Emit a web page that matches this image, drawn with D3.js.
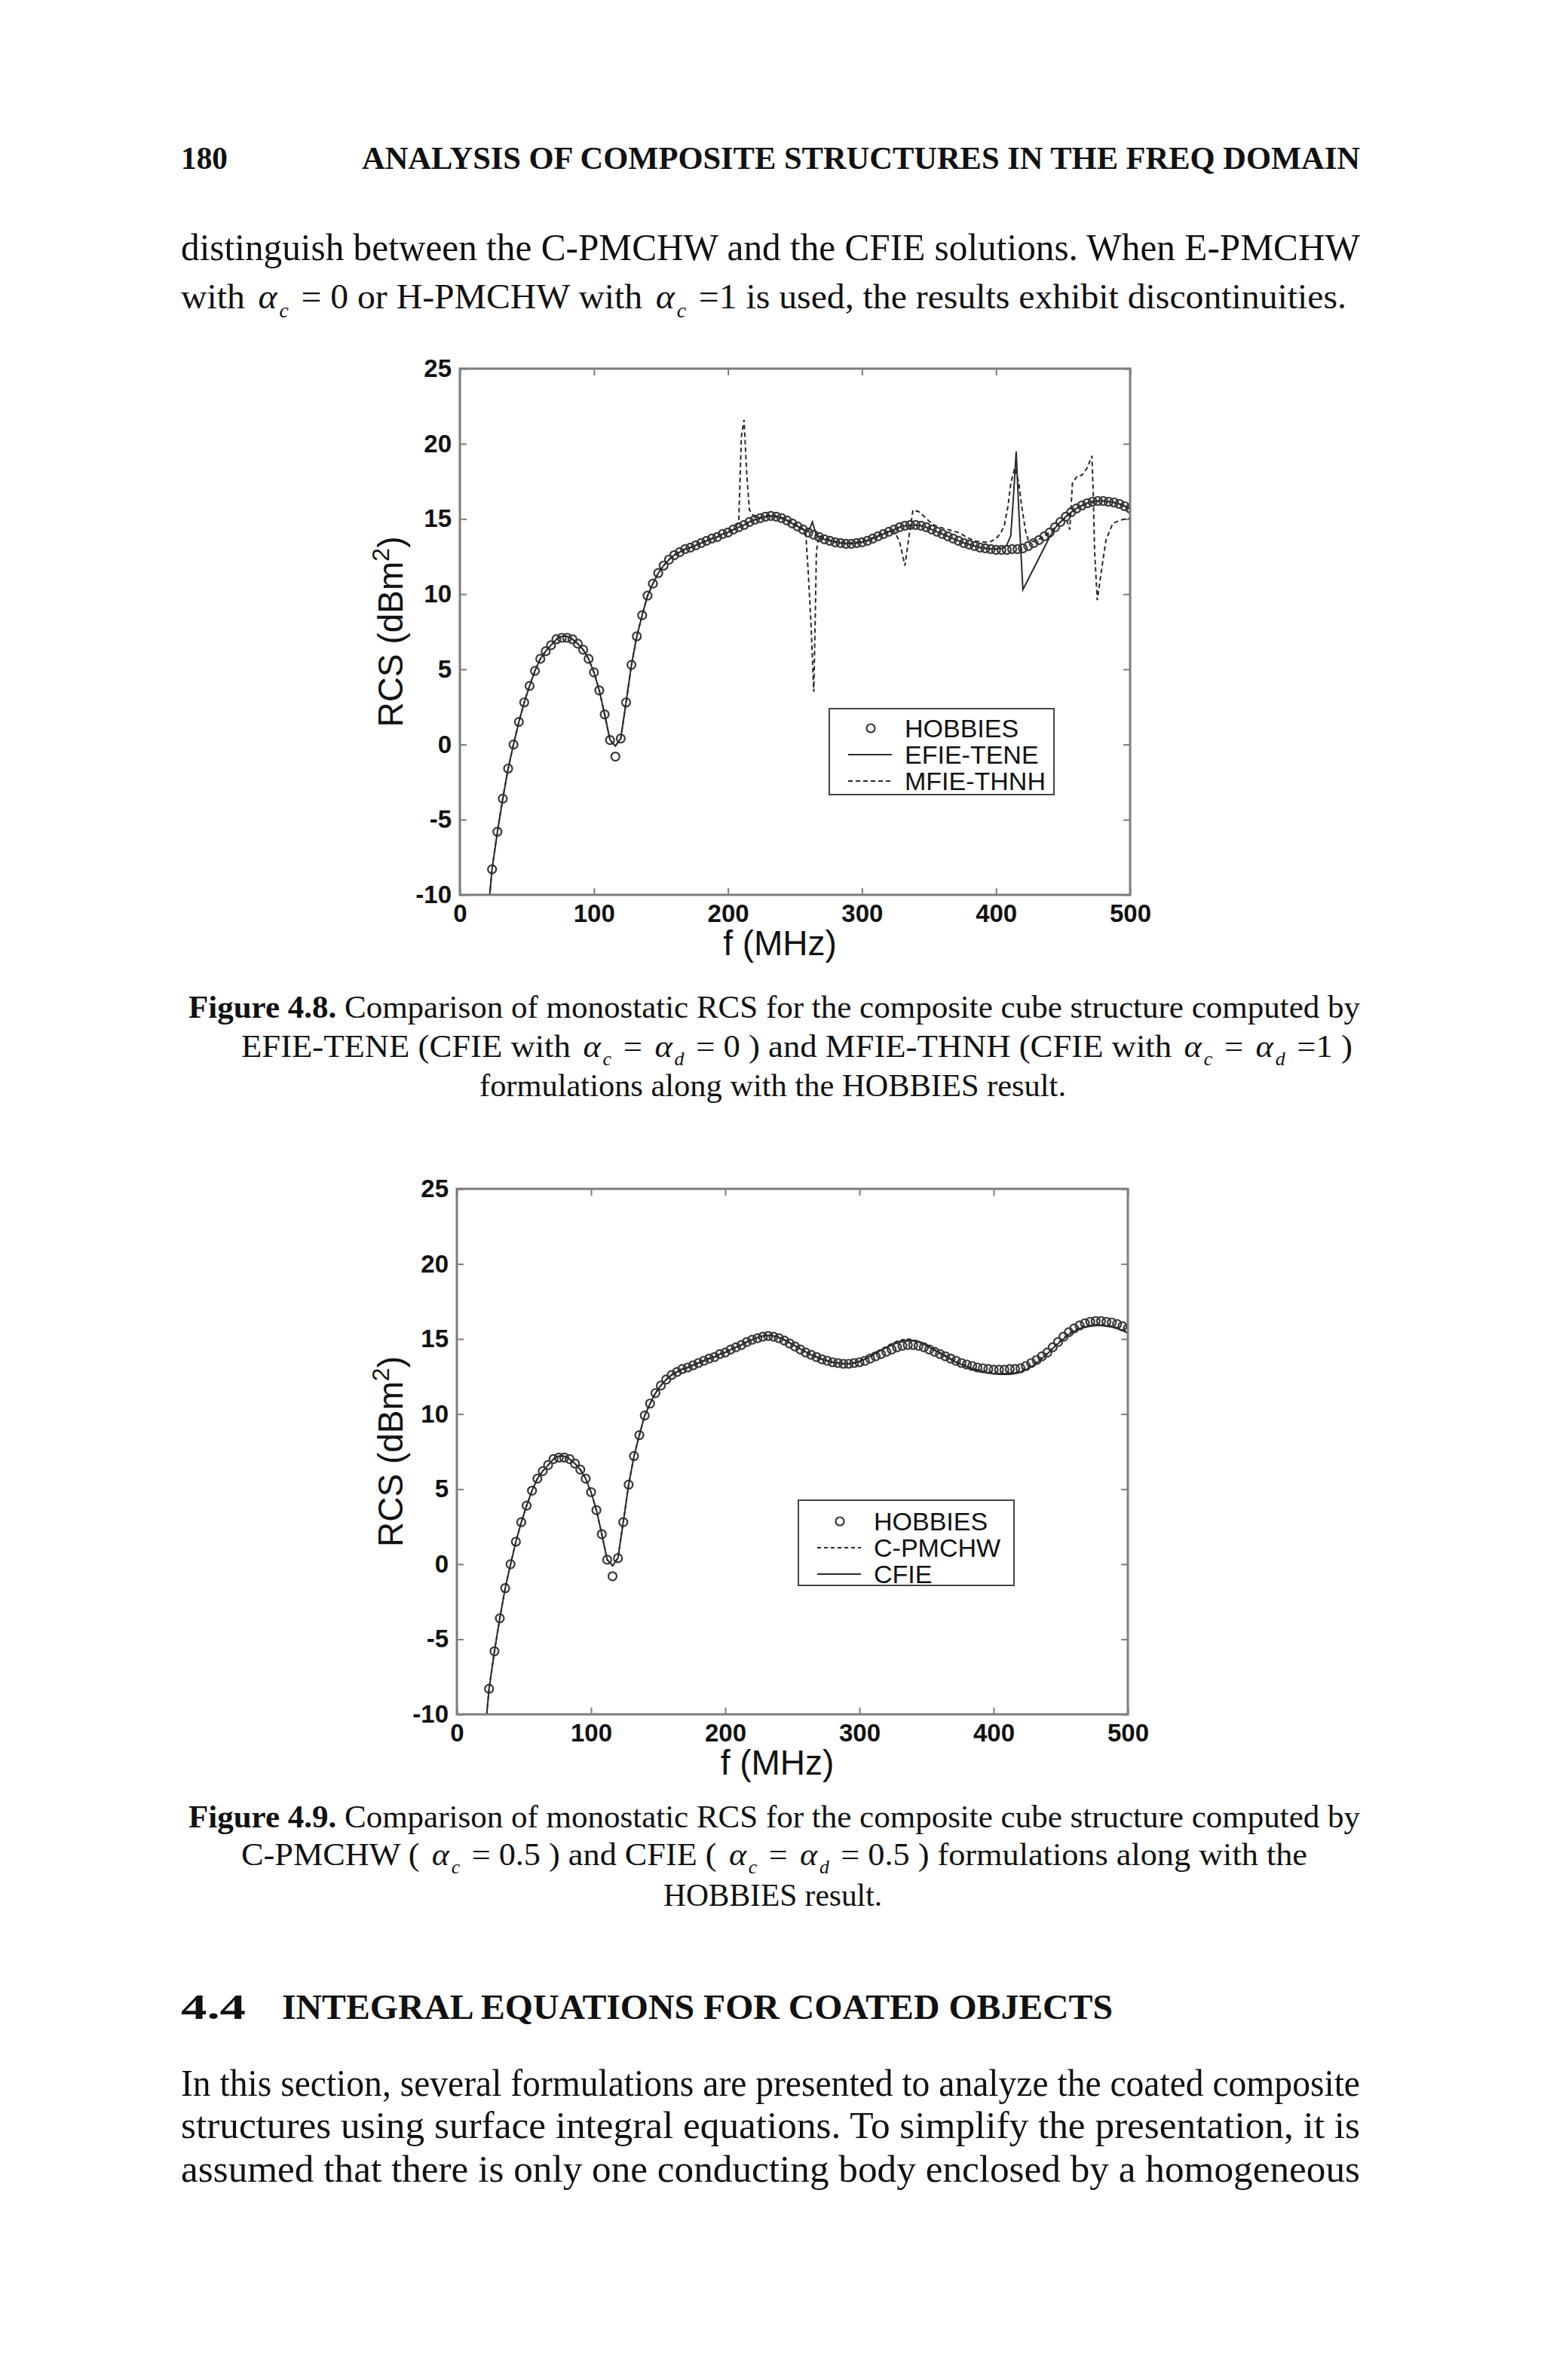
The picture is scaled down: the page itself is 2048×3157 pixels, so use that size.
<!DOCTYPE html>
<html>
<head>
<meta charset="utf-8">
<script src="https://d3js.org/d3.v7.min.js"></script>
<style>
body { margin: 0; background: #fff; }
</style>
</head>
<body>
<script>
// ---- data ----
var xTicks = [0, 100, 200, 300, 400, 500];
var yTicks = [-10, -5, 0, 5, 10, 15, 20, 25];

// HOBBIES reference (circles), same in both figures
var hobbiesFreq = [
  24,28,32,36,40,44,48,52,56,60,64,68,72,76,80,84,88,92,96,100,
  104,108,112,116,120,124,128,132,136,140,144,148,152,156,160,164,168,172,176,180,
  184,188,192,196,200,204,208,212,216,220,224,228,232,236,240,244,248,252,256,260,
  264,268,272,276,280,284,288,292,296,300,304,308,312,316,320,324,328,332,336,340,
  344,348,352,356,360,364,368,372,376,380,384,388,392,396,400,404,408,412,416,420,
  424,428,432,436,440,444,448,452,456,460,464,468,472,476,480,484,488,492,496,500];
var hobbiesRcs = [
  -8.3,-5.8,-3.6,-1.6,0.0,1.5,2.8,3.9,4.9,5.7,6.2,6.6,7.0,7.1,7.1,7.0,6.7,6.3,5.7,4.8,
  3.6,2.0,0.3,-0.8,0.4,2.8,5.3,7.2,8.6,9.9,10.7,11.4,11.9,12.3,12.6,12.8,13.0,13.1,13.25,13.4,
  13.55,13.7,13.8,14.0,14.1,14.3,14.45,14.6,14.8,14.95,15.05,15.15,15.2,15.15,15.05,14.9,14.7,14.5,14.3,14.1,
  13.95,13.8,13.65,13.55,13.45,13.4,13.35,13.35,13.4,13.45,13.55,13.7,13.85,14.0,14.15,14.3,14.45,14.55,14.6,14.6,
  14.55,14.45,14.3,14.15,14.0,13.85,13.7,13.55,13.4,13.3,13.2,13.1,13.05,13.0,12.95,12.95,12.95,13.0,13.0,13.05,
  13.2,13.4,13.6,13.85,14.1,14.45,14.8,15.15,15.45,15.7,15.9,16.05,16.15,16.2,16.2,16.15,16.1,16.0,15.85,15.7];

// Figure 4.8 lines: [f (MHz), RCS]
var efieTene = [
  [20,-12.2],[24,-8.3],[28,-5.8],[32,-3.6],[36,-1.6],[40,0.0],[44,1.5],[48,2.8],[52,3.9],[56,4.9],
  [60,5.7],[64,6.2],[68,6.6],[72,7.0],[76,7.2],[80,7.2],[84,7.0],[88,6.7],[92,6.3],[96,5.7],
  [100,4.8],[104,3.6],[108,2.0],[112,0.3],[116,-0.1],[120,0.4],[124,2.8],[128,5.3],[132,7.2],[136,8.6],
  [140,9.9],[144,10.7],[148,11.4],[152,11.9],[156,12.3],[160,12.6],[164,12.8],[168,13.0],[172,13.1],[176,13.25],
  [180,13.4],[184,13.55],[188,13.7],[192,13.8],[196,14.0],[200,14.1],[204,14.3],[208,14.45],[212,14.6],[216,14.8],
  [220,14.95],[224,15.05],[228,15.15],[232,15.2],[236,15.15],[240,15.05],[244,14.9],[248,14.7],[252,14.5],[256,14.3],
  [260,14.15],[263,14.8],[266,13.9],[270,13.7],[276,13.55],[280,13.45],[284,13.4],[288,13.35],[292,13.35],[296,13.4],
  [300,13.45],[304,13.55],[308,13.7],[312,13.85],[316,14.0],[320,14.15],[324,14.3],[328,14.45],[332,14.55],[336,14.6],
  [340,14.6],[344,14.55],[348,14.45],[352,14.3],[356,14.15],[360,14.0],[364,13.85],[368,13.7],[372,13.55],[376,13.4],
  [380,13.3],[384,13.2],[388,13.1],[392,13.05],[396,13.0],[400,13.0],[404,13.05],[408,13.25],[411,13.9],[413,16.5],
  [415,19.5],[417,15.5],[420,10.3],[424,11.0],[428,11.7],[432,12.4],[436,13.1],[440,13.8],[444,14.4],[448,14.8],
  [452,15.15],[456,15.45],[460,15.7],[464,15.9],[468,16.05],[472,16.15],[476,16.2],[480,16.2],[484,16.15],[488,16.1],
  [492,16.0],[496,15.85],[500,15.7]];
var mfieThnh = [
  [20,-12.2],[24,-8.3],[28,-5.8],[32,-3.6],[36,-1.6],[40,0.0],[44,1.5],[48,2.8],[52,3.9],[56,4.9],
  [60,5.7],[64,6.2],[68,6.6],[72,7.0],[76,7.2],[80,7.2],[84,7.0],[88,6.7],[92,6.3],[96,5.7],
  [100,4.8],[104,3.6],[108,2.0],[112,0.3],[116,-0.1],[120,0.4],[124,2.8],[128,5.3],[132,7.2],[136,8.6],
  [140,9.9],[144,10.7],[148,11.4],[152,11.9],[156,12.3],[160,12.6],[164,12.8],[168,13.0],[172,13.1],[176,13.25],
  [180,13.4],[184,13.55],[188,13.7],[192,13.8],[196,14.0],[200,14.1],[204,14.3],[208,14.75],[210,20.5],[212,21.6],
  [214,18.0],[216,15.6],[220,15.1],[224,15.1],[228,15.2],[232,15.25],[236,15.2],[240,15.1],[244,14.95],[248,14.75],
  [252,14.55],[256,14.35],[258,14.1],[260,11.3],[262,7.9],[264,3.5],[265,7.9],[266,12.9],[268,13.9],[272,13.7],
  [276,13.6],[280,13.5],[284,13.45],[288,13.4],[292,13.4],[296,13.45],[300,13.5],[304,13.6],[308,13.75],[312,13.9],
  [316,14.05],[320,14.2],[324,14.2],[328,13.5],[332,11.9],[335,13.8],[338,15.6],[342,15.5],[346,15.2],[352,14.7],
  [356,14.5],[360,14.4],[364,14.3],[368,14.2],[372,14.1],[376,13.9],[380,13.7],[386,13.5],[392,13.45],[396,13.5],
  [400,13.7],[403,14.0],[406,14.5],[409,15.9],[411,17.4],[414,18.4],[417,17.4],[419,15.9],[422,14.2],[424,13.6],
  [428,13.5],[432,13.65],[436,13.85],[440,14.1],[444,14.45],[448,14.8],[452,15.1],[455,14.3],[457,17.4],[461,17.9],
  [464,17.9],[468,18.4],[471.5,19.2],[472.5,16.7],[473.5,12.9],[475.5,9.6],[478,11.2],[482,13.6],[487,14.7],[492,14.9],
  [496,15.0],[500,15.05]];

// Figure 4.9 lines, sampled every 4 MHz
var lineFreq = [20,
  24,28,32,36,40,44,48,52,56,60,64,68,72,76,80,84,88,92,96,100,
  104,108,112,116,120,124,128,132,136,140,144,148,152,156,160,164,168,172,176,180,
  184,188,192,196,200,204,208,212,216,220,224,228,232,236,240,244,248,252,256,260,
  264,268,272,276,280,284,288,292,296,300,304,308,312,316,320,324,328,332,336,340,
  344,348,352,356,360,364,368,372,376,380,384,388,392,396,400,404,408,412,416,420,
  424,428,432,436,440,444,448,452,456,460,464,468,472,476,480,484,488,492,496,500];
var cfieRcs = [-12.2,
  -8.3,-5.8,-3.6,-1.6,0.0,1.5,2.8,3.9,4.9,5.7,6.2,6.6,7.0,7.2,7.2,7.0,6.7,6.3,5.7,4.8,
  3.6,2.0,0.3,-0.1,0.4,2.8,5.3,7.2,8.6,9.9,10.7,11.4,11.9,12.3,12.6,12.8,13.0,13.1,13.25,13.4,
  13.55,13.7,13.8,14.0,14.1,14.3,14.45,14.6,14.8,14.95,15.1,15.2,15.25,15.2,15.1,14.95,14.75,14.55,14.35,14.15,
  13.95,13.8,13.65,13.55,13.45,13.4,13.35,13.35,13.4,13.5,13.65,13.85,14.05,14.25,14.45,14.65,14.8,14.9,14.95,14.9,
  14.8,14.65,14.45,14.25,14.05,13.85,13.65,13.45,13.3,13.15,13.0,12.9,12.8,12.75,12.7,12.65,12.65,12.65,12.7,12.8,
  12.95,13.15,13.4,13.7,14.0,14.35,14.7,15.0,15.3,15.5,15.7,15.8,15.85,15.9,15.9,15.85,15.8,15.7,15.55,15.4];
var cpmchwRcs = [-12.2,
  -8.3,-5.8,-3.6,-1.6,0.0,1.5,2.8,3.9,4.9,5.7,6.2,6.6,7.0,7.2,7.2,7.0,6.7,6.3,5.7,4.8,
  3.6,2.0,0.3,-0.1,0.4,2.8,5.3,7.2,8.6,9.9,10.7,11.4,11.9,12.3,12.6,12.8,13.0,13.1,13.25,13.4,
  13.55,13.7,13.8,14.0,14.1,14.3,14.45,14.6,14.8,14.95,15.1,15.2,15.25,15.2,15.1,14.95,14.75,14.55,14.35,14.15,
  13.95,13.8,13.65,13.55,13.45,13.4,13.35,13.35,13.4,13.5,13.7,13.9,14.1,14.3,14.5,14.7,14.85,14.95,15.0,14.95,
  14.85,14.7,14.5,14.3,14.1,13.9,13.7,13.5,13.35,13.2,13.05,12.95,12.85,12.8,12.75,12.7,12.7,12.7,12.75,12.85,
  13.0,13.2,13.45,13.75,14.05,14.4,14.75,15.05,15.35,15.55,15.75,15.85,15.9,15.95,15.95,15.9,15.85,15.75,15.6,15.45];

// ---- page ----
var W = 2048, H = 3157;
var serif = "'Liberation Serif', 'Times New Roman', serif";
var sans = "'Liberation Sans', Arial, sans-serif";

var svg = d3.select("body").append("svg").attr("width", W).attr("height", H);
svg.append("rect").attr("width", W).attr("height", H).attr("fill", "#fff");

// one line of text; parts = [text, kind]; kind: b = bold, i = italic, s = italic subscript
function textLine(x, y, size, len, parts, weight) {
  var t = svg.append("text").attr("x", x).attr("y", y)
    .attr("font-family", serif).attr("font-size", size).attr("fill", "#111");
  if (weight) t.attr("font-weight", weight);
  if (len) t.attr("textLength", len).attr("lengthAdjust", "spacingAndGlyphs");
  var shift = 0;
  parts.forEach(function(p) {
    var s = t.append("tspan").text(p[0]);
    if (p[1] == "b") s.attr("font-weight", "bold");
    if (p[1] == "i") s.attr("font-style", "italic").attr("dx", size * 0.12);
    if (p[1] == "s") {
      s.attr("font-style", "italic").attr("font-size", size * 0.58)
        .attr("dy", size * 0.26).attr("dx", size * 0.06);
      shift = size * 0.26;
    } else if (shift) {
      s.attr("dy", -shift).attr("dx", size * 0.1);
      shift = 0;
    }
  });
  return t;
}

// header and first paragraph
textLine(240, 224, 42, 62, [["180"]], "bold");
textLine(480, 224, 42, 1324, [["ANALYSIS OF COMPOSITE STRUCTURES IN THE FREQ DOMAIN"]], "bold");
textLine(240, 345, 50, 1564, [["distinguish between the C-PMCHW and the CFIE solutions. When E-PMCHW"]]);
// slightly smaller size so the line is stretched, never squeezed, to its width
textLine(240, 409, 46, 1546, [["with "], ["\u03b1", "i"], ["c", "s"], [" = 0 or H-PMCHW with "], ["\u03b1", "i"], ["c", "s"],
  [" =1 is used, the results exhibit discontinuities."]]);

// caption of figure 4.8
textLine(250, 1350, 43, 1554, [["Figure 4.8.", "b"], ["  Comparison of monostatic RCS for the composite cube structure computed by"]]);
textLine(320, 1402, 42, 1474, [["EFIE-TENE (CFIE with "], ["\u03b1", "i"], ["c", "s"], [" = "], ["\u03b1", "i"], ["d", "s"],
  [" = 0 ) and MFIE-THNH (CFIE with "], ["\u03b1", "i"], ["c", "s"], [" = "], ["\u03b1", "i"], ["d", "s"], [" =1 )"]]);
textLine(636, 1454, 43, 778, [["formulations along with the HOBBIES result."]]);

// caption of figure 4.9
textLine(250, 2424, 43, 1554, [["Figure 4.9.", "b"], ["  Comparison of monostatic RCS for the composite cube structure computed by"]]);
textLine(320, 2474, 42, 1414, [["C-PMCHW ( "], ["\u03b1", "i"], ["c", "s"], [" = 0.5 ) and CFIE ( "], ["\u03b1", "i"], ["c", "s"],
  [" = "], ["\u03b1", "i"], ["d", "s"], [" = 0.5 ) formulations along with the"]]);
textLine(880, 2528, 43, 290, [["HOBBIES result."]]);

// section 4.4
textLine(240, 2678, 46, 86, [["4.4"]], "bold");
textLine(374, 2678, 46, 1102, [["INTEGRAL EQUATIONS FOR COATED OBJECTS"]], "bold");
textLine(240, 2780, 50, 1564, [["In this section, several formulations are presented to analyze the coated composite"]]);
textLine(240, 2836, 50, 1564, [["structures using surface integral equations. To simplify the presentation, it is"]]);
textLine(240, 2894, 50, 1564, [["assumed that there is only one conducting body enclosed by a homogeneous"]]);

// ---- charts ----
var frameColor = "#7d7d7d";
var inkColor = "#2a2a2a";

function drawChart(c) {
  var x = d3.scaleLinear().domain([0, 500]).range([c.left, c.right]);
  var y = d3.scaleLinear().domain([-10, 25]).range([c.bottom, c.top]);
  var g = svg.append("g");

  var axes = [
    [d3.axisBottom(x).tickValues(xTicks).tickSize(-9).tickPadding(13).tickFormat(function(d) { return String(d); }), 0, c.bottom],
    [d3.axisTop(x).tickValues(xTicks).tickSize(-9).tickFormat(""), 0, c.top],
    [d3.axisLeft(y).tickValues(yTicks).tickSize(-9).tickPadding(11).tickFormat(function(d) { return String(d); }), c.left, 0],
    [d3.axisRight(y).tickValues(yTicks).tickSize(-9).tickFormat(""), c.right, 0]
  ];
  axes.forEach(function(a) {
    var ag = g.append("g").attr("transform", "translate(" + a[1] + "," + a[2] + ")").call(a[0]);
    ag.select(".domain").remove();
    ag.selectAll(".tick line").attr("stroke", frameColor).attr("stroke-width", 2);
    ag.selectAll(".tick text").attr("fill", "#111").attr("font-family", sans)
      .attr("font-size", 33).attr("font-weight", "bold");
  });

  var clipId = "clip" + c.id;
  svg.append("clipPath").attr("id", clipId).append("rect")
    .attr("x", c.left).attr("y", c.top).attr("width", c.right - c.left).attr("height", c.bottom - c.top);

  var line = d3.line().x(function(d) { return x(d[0]); }).y(function(d) { return y(d[1]); });
  var plot = g.append("g").attr("clip-path", "url(#" + clipId + ")");

  plot.selectAll("circle").data(d3.zip(hobbiesFreq, hobbiesRcs)).enter().append("circle")
    .attr("cx", function(d) { return x(d[0]); })
    .attr("cy", function(d) { return y(d[1]); })
    .attr("r", 5.5).attr("fill", "none").attr("stroke", "#3a3a3a").attr("stroke-width", 2.2);

  c.series.forEach(function(s) {
    plot.append("path").attr("d", line(s.data)).attr("fill", "none")
      .attr("stroke", inkColor).attr("stroke-width", 2)
      .attr("stroke-dasharray", s.dash || null);
  });

  g.append("rect").attr("x", c.left).attr("y", c.top)
    .attr("width", c.right - c.left).attr("height", c.bottom - c.top)
    .attr("fill", "none").attr("stroke", frameColor).attr("stroke-width", 3);

  // axis titles
  g.append("text").attr("x", (c.left + c.right) / 2 - 20).attr("y", c.bottom + 80)
    .attr("text-anchor", "middle").attr("font-family", sans).attr("font-size", 46).attr("fill", "#111")
    .text("f (MHz)");
  var yt = g.append("text").attr("transform", "translate(534," + (c.top + c.bottom) / 2 + ") rotate(-90)")
    .attr("text-anchor", "middle").attr("font-family", sans).attr("font-size", 46).attr("fill", "#111");
  yt.append("tspan").text("RCS (dBm");
  yt.append("tspan").text("2").attr("font-size", 32).attr("dy", -18);
  yt.append("tspan").text(")").attr("dy", 18);

  // legend
  var L = c.legend;
  g.append("rect").attr("x", L.x0).attr("y", L.y0).attr("width", L.x1 - L.x0).attr("height", L.y1 - L.y0)
    .attr("fill", "#fff").attr("stroke", "#444").attr("stroke-width", 2);
  L.items.forEach(function(it, i) {
    var cy = L.rows[i];
    if (it.mark == "circle") {
      g.append("circle").attr("cx", L.x0 + 55).attr("cy", cy).attr("r", 5.5)
        .attr("fill", "none").attr("stroke", "#3a3a3a").attr("stroke-width", 2.2);
    } else {
      g.append("line").attr("x1", L.x0 + 25).attr("x2", L.x0 + 83).attr("y1", cy).attr("y2", cy)
        .attr("stroke", inkColor).attr("stroke-width", 2).attr("stroke-dasharray", it.dash || null);
    }
    g.append("text").attr("x", L.x0 + 100).attr("y", cy + 12).attr("font-family", sans)
      .attr("font-size", 34).attr("fill", "#111").text(it.label);
  });
}

drawChart({
  id: 1, left: 610, right: 1499, top: 489, bottom: 1187,
  series: [{ data: efieTene }, { data: mfieThnh, dash: "6,4" }],
  legend: { x0: 1100, x1: 1398, y0: 940, y1: 1054, rows: [966, 1001, 1036],
    items: [{ label: "HOBBIES", mark: "circle" }, { label: "EFIE-TENE" }, { label: "MFIE-THNH", dash: "6,4" }] }
});

drawChart({
  id: 2, left: 606, right: 1496, top: 1577, bottom: 2274,
  series: [{ data: d3.zip(lineFreq, cpmchwRcs), dash: "5,4" }, { data: d3.zip(lineFreq, cfieRcs) }],
  legend: { x0: 1059, x1: 1345, y0: 1990, y1: 2103, rows: [2018, 2053, 2088],
    items: [{ label: "HOBBIES", mark: "circle" }, { label: "C-PMCHW", dash: "5,4" }, { label: "CFIE" }] }
});
</script>
</body>
</html>
